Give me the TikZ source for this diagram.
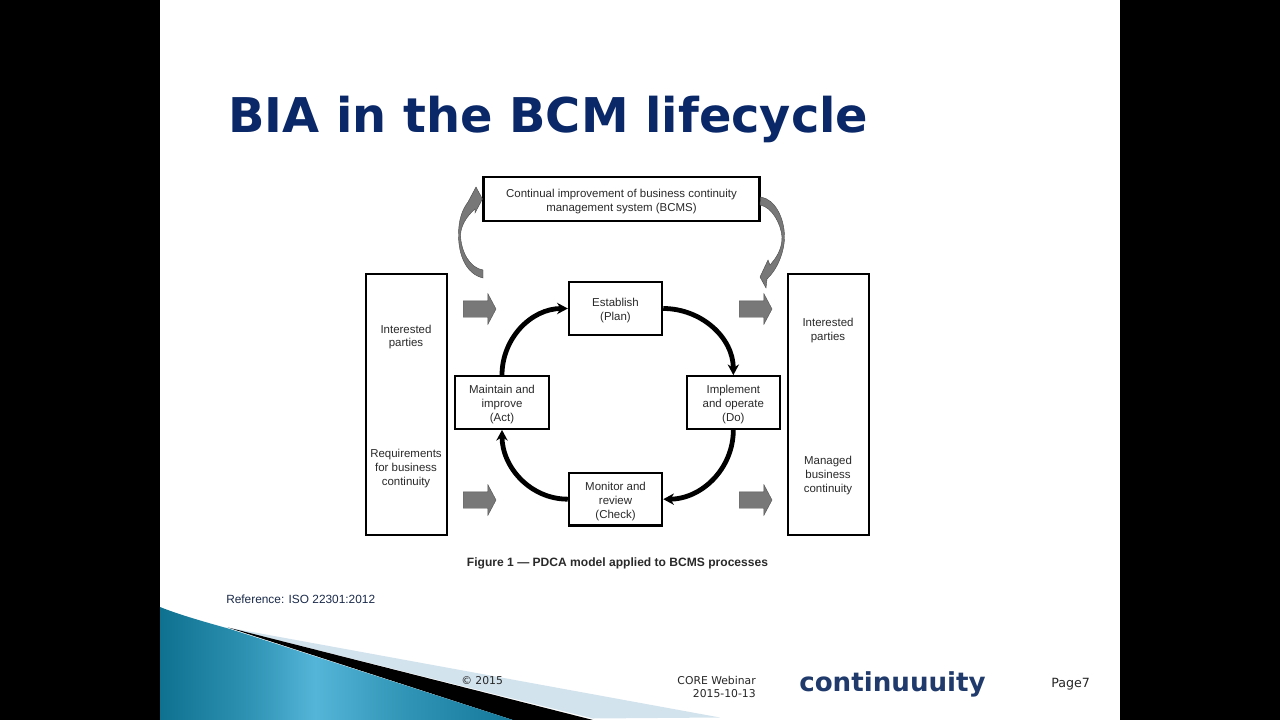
\documentclass[tikz,border=0pt]{standalone}
\usepackage{fontspec}
\setmainfont{Liberation Sans}
\newfontfamily\verdanaish{DejaVu Sans}
\usetikzlibrary{arrows.meta,shapes.arrows}
\definecolor{navy}{HTML}{0A2868}
\definecolor{logoblue}{HTML}{1F3A6B}
\definecolor{refblue}{HTML}{1A2A4A}
\definecolor{palewedge}{HTML}{D3E3ED}
\definecolor{boxgray}{HTML}{787878}
\definecolor{labelgray}{HTML}{2A2A2A}
\definecolor{tealdark}{HTML}{0F7190}
\definecolor{tealmid}{HTML}{2F94B5}
\definecolor{teallight}{HTML}{55B5D8}
\definecolor{tealtip}{HTML}{14789A}
\pgfdeclarehorizontalshading{wedgeshade}{100bp}{color(0bp)=(tealdark); color(25bp)=(tealdark);
    color(38bp)=(tealmid); color(47bp)=(teallight); color(60bp)=(tealmid); color(75bp)=(tealtip); color(100bp)=(tealtip)}
\newcommand{\lift}{\rule{0pt}{9.5pt}}
\tikzset{
    stepbox/.style={draw=black, line width=1.6pt, fill=white, align=center, text=labelgray,
        font=\fontsize{8.6}{10.4}\selectfont, minimum width=70pt, minimum height=39.5pt, inner sep=0pt},
    sidebar/.style={draw=black, line width=1.7pt, fill=white, minimum width=60.5pt, minimum height=195.5pt},
    barlabel/.style={align=center, text=labelgray, font=\fontsize{8.6}{10.4}\selectfont},
    footlabel/.style={align=right, text=black!85, font=\verdanaish\fontsize{8.1}{10}\selectfont},
    cycle arrow/.style={line width=3.6pt, -{Stealth[length=8pt,width=8.5pt]}},
    gray arrow/.style={single arrow, fill=boxgray, draw=boxgray!70!black, line width=0.3pt, inner sep=0pt,
        inner ysep=6pt, minimum height=24.5pt, minimum width=22.5pt, single arrow head extend=5.25pt,
        single arrow tip angle=124, single arrow head indent=0pt},
    bend arrow/.style={fill=boxgray, draw=boxgray!60!black, line width=0.3pt}
}
\begin{document}
\begin{tikzpicture}[x=0.75pt, y=-0.75pt]
    \useasboundingbox (0,0) rectangle (1280,720);
    \fill[black] (0,0) rectangle (1280,720);
    \fill[white] (160,0) rectangle (1120,720);
    % corner wedges
    \fill[palewedge] (225,627) -- (720,717.5) -- (593,718.5) -- cycle;
    \fill[black] (228,627.5) -- (593,720) -- (513,720) -- cycle;
    \shade[shading=wedgeshade]
        (160,607) .. controls (180,615) and (205,622) .. (230,629) -- (513,720) -- (160,720) -- cycle;
    % heading and footer
    \node (title) [anchor=west, text=navy, font=\verdanaish\bfseries\fontsize{35.9}{40}\selectfont, inner sep=0pt] at (228,119) {BIA in the BCM lifecycle};
    \node (source) [anchor=west, text=refblue, font=\fontsize{8.9}{11}\selectfont, inner sep=0pt] at (226,599) {Reference: ISO 22301:2012};
    \node (year) [footlabel, anchor=west, inner sep=0pt] at (461,681) {© 2015};
    \node (webinar) [footlabel, anchor=east, inner sep=0pt] at (756,687) {CORE Webinar\\2015-10-13};
    \node (logo) [anchor=west, text=logoblue, font=\verdanaish\bfseries\fontsize{19.6}{22}\selectfont, inner sep=0pt] at (799,684) {continuuuity};
    \node (page) [footlabel, anchor=west, inner sep=0pt, font=\verdanaish\fontsize{9.5}{11}\selectfont] at (1051,684) {Page7};
    % side bars and their labels
    \node (leftbar) [sidebar] at (406.5,404.5) {};
    \node (rightbar) [sidebar, right of=leftbar, node distance=316.5pt] {};
    \node (needs) [barlabel] at (406,337) {Interested\\parties};
    \node (reqs) [barlabel] at (406,468.5) {Requirements\\for business\\continuity};
    \node (parties) [barlabel] at (828,330.5) {Interested\\parties};
    \node (managed) [barlabel] at (828,475.5) {Managed\\business\\continuity};
    % process boxes
    \node (improve) [stepbox, minimum width=207pt, minimum height=33pt] at (621.5,199) {\lift Continual improvement of business continuity\\management system (BCMS)};
    \node (plan) [stepbox] at (615.5,308.5) {\lift Establish\\(Plan)};
    \node (act) [stepbox] at (502,402.5) {\lift Maintain and\\improve\\(Act)};
    \node (do) [stepbox, right of=act, node distance=173.5pt] {\lift Implement\\and operate\\(Do)};
    \node (check) [stepbox, below of=plan, node distance=143pt] {\lift Monitor and\\review\\(Check)};
    \node (caption) [font=\bfseries\fontsize{9.05}{10}\selectfont, text=labelgray, inner sep=0pt] at (617.5,563) {Figure 1 — PDCA model applied to BCMS processes};
    % the cycle
    \draw[cycle arrow] (plan.east) to[out=0, in=90] (do.north);
    \draw[cycle arrow] (do.south) to[out=-90, in=0] (check.east);
    \draw[cycle arrow] (check.west) to[out=180, in=-90] (act.south);
    \draw[cycle arrow] (act.north) to[out=90, in=180] (plan.west);
    % block arrows
    \node (inup) [gray arrow] at (477.5,309) {};
    \node (indown) [gray arrow] at (477.5,500) {};
    \node (outup) [gray arrow] at (753.5,309) {};
    \node (outdown) [gray arrow] at (753.5,500) {};
    % curved arrows round the top box
    \draw[bend arrow] (483,278) .. controls (466,274) and (458.5,255) .. (458.5,235)
        .. controls (458.5,220) and (462,210) .. (468,202) -- (476,187) -- (improve.west) -- (475,213) -- (475,209)
        .. controls (467,216) and (461,225) .. (460.5,235) .. controls (461,252) and (470,268) .. (483,270) -- cycle;
    \draw[bend arrow] (improve.east) ++(0,-2) .. controls (775,199) and (784.5,218) .. (784.5,237)
        .. controls (784.5,252) and (777,270) .. (767,279) -- (766,288) -- (760,277) -- (768,260) -- (770,265)
        .. controls (776,258) and (782,250) .. (782,237) .. controls (781,224) and (772,207) .. (760,205) -- cycle;
\end{tikzpicture}
\end{document}
